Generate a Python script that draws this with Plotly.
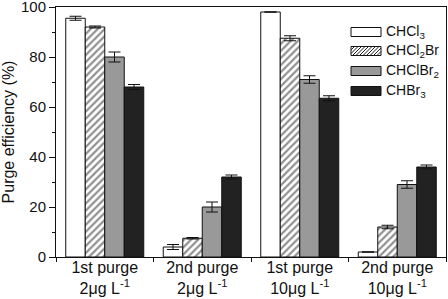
import plotly.graph_objects as go

categories = ["1st purge<br>2μg L<sup>-1</sup>", "2nd purge<br>2μg L<sup>-1</sup>",
              "1st purge<br>10μg L<sup>-1</sup>", "2nd purge<br>10μg L<sup>-1</sup>"]
series_names = ["CHCl<sub>3</sub>", "CHCl<sub>2</sub>Br", "CHClBr<sub>2</sub>", "CHBr<sub>3</sub>"]
chcl3 = [95.5, 4.0, 98.0, 2.0]
chcl3_err = [0.8, 1.0, 0.0, 0.0]
chcl2br = [92.0, 7.5, 87.5, 12.0]
chcl2br_err = [0.4, 0.3, 1.0, 0.7]
chclbr2 = [80.0, 20.0, 71.0, 29.0]
chclbr2_err = [2.0, 2.0, 1.5, 1.5]
chbr3 = [68.0, 32.0, 63.5, 36.0]
chbr3_err = [1.0, 0.8, 1.0, 0.8]
y_ticks = [0, 20, 40, 60, 80, 100]

W, H = 448, 299
L, R, T, B = 56, 2, 7, 42
pw, ph = W - L - R, H - T - B

def px(x):
    return (x - L) / pw

def py(y):
    return (H - B - y) / ph

fig = go.Figure()
styles = [
    dict(color="white", pattern=None),
    dict(color="white", pattern=dict(shape="/", fgcolor="#222222", bgcolor="white", size=5, solidity=0.45)),
    dict(color="#999999", pattern=None),
    dict(color="#222222", pattern=None),
]
vals = [chcl3, chcl2br, chclbr2, chbr3]
errs = [chcl3_err, chcl2br_err, chclbr2_err, chbr3_err]
for name, v, e, st in zip(series_names, vals, errs, styles):
    marker = dict(color=st["color"], line=dict(color="#111111", width=1))
    if st["pattern"]:
        marker["pattern"] = st["pattern"]
    fig.add_trace(go.Bar(
        x=categories, y=v, name=name, marker=marker,
        error_y=dict(type="data", array=e, visible=True, color="#111111", thickness=1, width=6),
        showlegend=False,
    ))

# manual legend
sx0, sx1 = 351, 381
rows = [32, 51, 71, 91]
fills = ["white", "white", "#999999", "#222222"]
for i, (yc, f, name) in enumerate(zip(rows, fills, series_names)):
    y0, y1 = yc - 4.5, yc + 4.5
    fig.add_shape(type="rect", xref="paper", yref="paper",
                  x0=px(sx0), x1=px(sx1), y0=py(y1), y1=py(y0),
                  fillcolor=f, line=dict(color="#111111", width=1), layer="above")
    if i == 1:
        path = ""
        step = 3.5
        xs = sx0 - 9
        while xs < sx1:
            xa, ya = xs, y1
            xb, yb = xs + 9, y0
            if xa < sx0:
                ya = y1 - (sx0 - xa)
                xa = sx0
            if xb > sx1:
                yb = y0 + (xb - sx1)
                xb = sx1
            if xa < xb:
                path += f"M{px(xa)},{py(ya)} L{px(xb)},{py(yb)} "
            xs += step
        fig.add_shape(type="path", xref="paper", yref="paper", path=path,
                      line=dict(color="#222222", width=1), layer="above")
    fig.add_annotation(xref="paper", yref="paper", x=px(384), y=py(yc),
                       text=name, showarrow=False, xanchor="left", yanchor="middle",
                       font=dict(size=14, color="#111111"))

fig.update_layout(
    width=W, height=H,
    margin=dict(l=L, r=R, t=T, b=B, autoexpand=False),
    barmode="group", bargap=0.2, bargroupgap=0,
    plot_bgcolor="white", paper_bgcolor="white",
    font=dict(family="Liberation Sans, Arial, sans-serif", size=14, color="#111111"),
    showlegend=False,
)
fig.update_xaxes(
    type="category", tickson="boundaries", ticks="outside", ticklen=4,
    tickcolor="#111111", showline=True, linecolor="#111111", linewidth=1, mirror=True,
    showgrid=False, tickfont=dict(size=16), automargin=False, ticklabeloverflow="allow",
    ticklabelstandoff=-4,
)
fig.update_yaxes(
    range=[0, 100], tickvals=y_ticks, ticks="outside", ticklen=6, tickcolor="#111111",
    minor=dict(dtick=10, ticks="outside", ticklen=3, tickcolor="#111111", showgrid=False),
    showline=True, linecolor="#111111", linewidth=1, mirror=True, showgrid=False,
    zeroline=False, tickfont=dict(size=15), automargin=False, ticklabeloverflow="allow",
    title=dict(text="Purge efficiency (%)", font=dict(size=16), standoff=4),
)

fig.write_html("out.html", config={"displayModeBar": False},
               post_script="document.body.style.margin='0';")
